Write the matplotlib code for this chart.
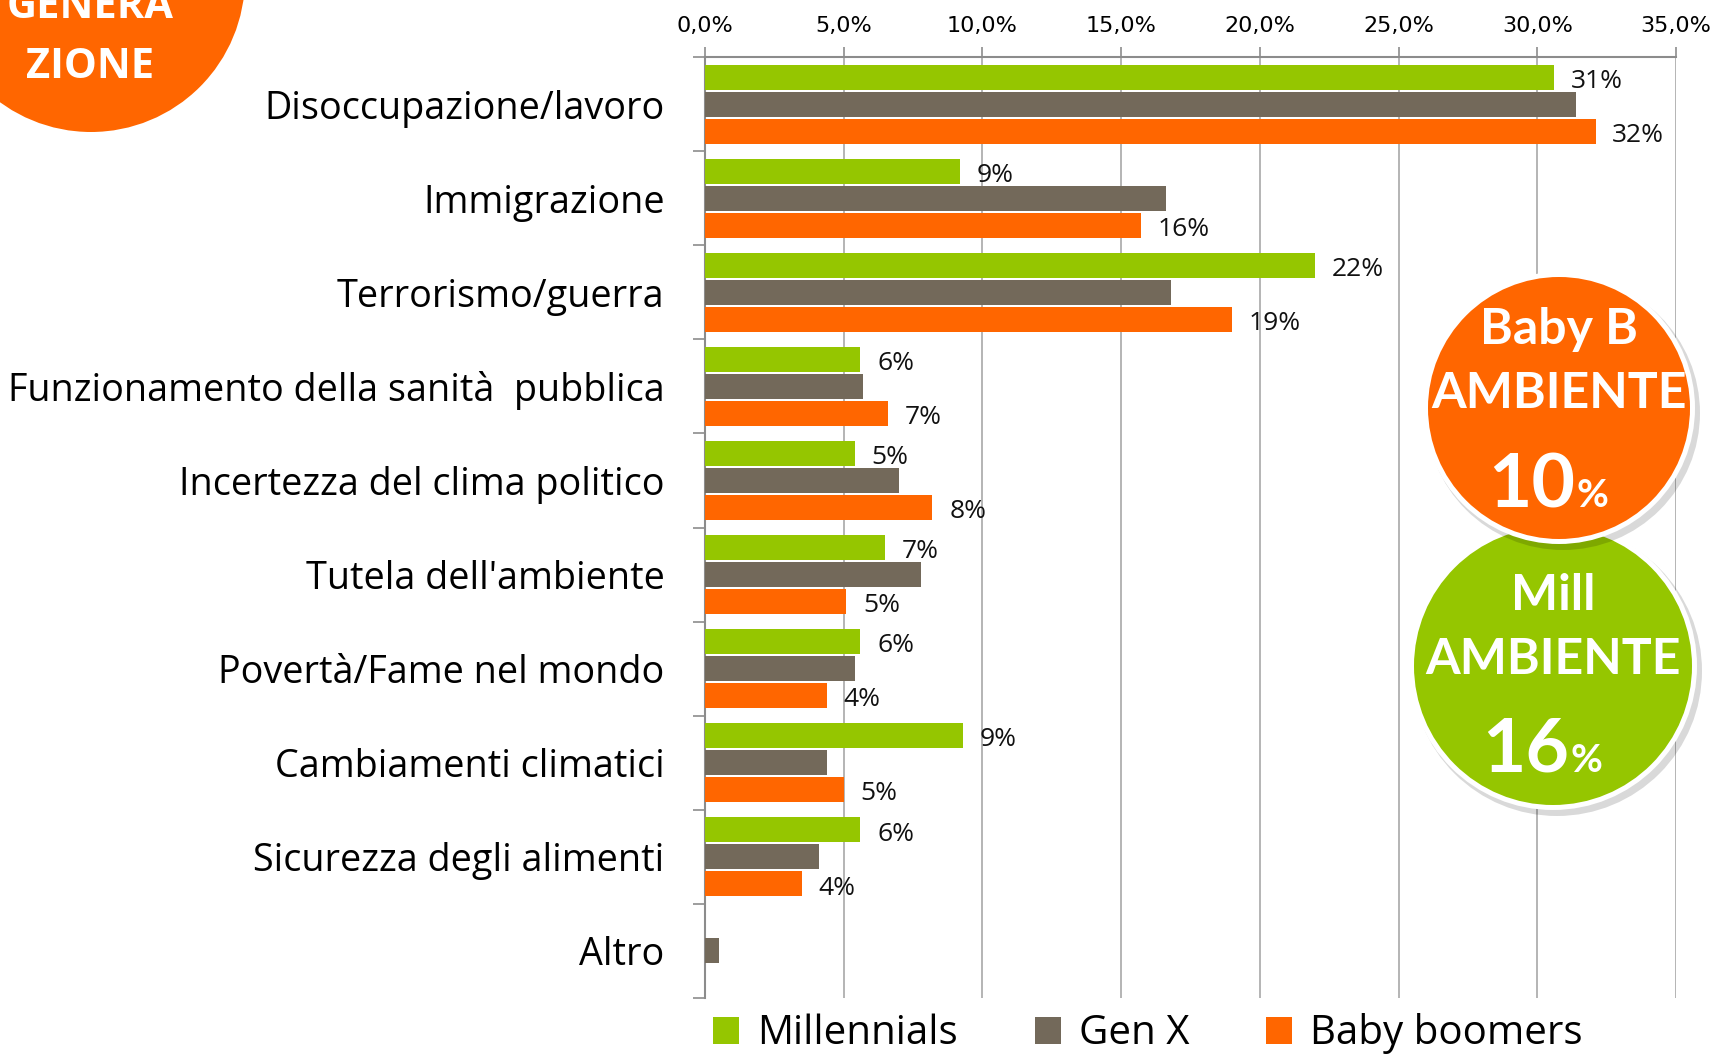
import matplotlib
matplotlib.use("Agg")
import matplotlib.pyplot as plt
from matplotlib.patches import Circle
from matplotlib.ticker import FuncFormatter
import numpy as np

categories = ["Disoccupazione/lavoro", "Immigrazione", "Terrorismo/guerra",
              "Funzionamento della sanità  pubblica", "Incertezza del clima politico",
              "Tutela dell'ambiente", "Povertà/Fame nel mondo", "Cambiamenti climatici",
              "Sicurezza degli alimenti", "Altro"]
millennials = [30.6, 9.2, 22.0, 5.6, 5.4, 6.5, 5.6, 9.3, 5.6, 0.0]
genx = [31.4, 16.6, 16.8, 5.7, 7.0, 7.8, 5.4, 4.4, 4.1, 0.5]
boomers = [32.1, 15.7, 19.0, 6.6, 8.2, 5.1, 4.4, 5.0, 3.5, 0.0]
mill_labels = ["31%", "9%", "22%", "6%", "5%", "7%", "6%", "9%", "6%", ""]
boom_labels = ["32%", "16%", "19%", "7%", "8%", "5%", "4%", "5%", "4%", ""]
series_names = ["Millennials", "Gen X", "Baby boomers"]
xticks = [0, 5, 10, 15, 20, 25, 30, 35]

GREEN = "#95C600"
GRAY = "#73695A"
ORANGE = "#FF6600"
AX_GRAY = "#8C8C8C"

W, H = 1729, 1054
fig = plt.figure(figsize=(W / 100, H / 100), dpi=100)
ax = fig.add_axes([705 / W, 1 - 998 / H, (1676 - 705) / W, (998 - 57) / H])

y = np.arange(len(categories))
off = 0.287
bh = 0.266
ax.barh(y - off, millennials, height=bh, color=GREEN, label=series_names[0], zorder=3)
ax.barh(y, genx, height=bh, color=GRAY, label=series_names[1], zorder=3)
ax.barh(y + off, boomers, height=bh, color=ORANGE, label=series_names[2], zorder=3)

lab_font = dict(fontsize=19, family=["Open Sans", "DejaVu Sans"], color="#111111")
for i in range(len(categories)):
    if mill_labels[i]:
        ax.annotate(mill_labels[i], (millennials[i], y[i] - off), xytext=(12, -3),
                    textcoords="offset points", va="center", ha="left", zorder=4, **lab_font)
    if boom_labels[i]:
        ax.annotate(boom_labels[i], (boomers[i], y[i] + off), xytext=(12, -3),
                    textcoords="offset points", va="center", ha="left", zorder=4, **lab_font)

ax.set_xlim(0, 35)
ax.set_ylim(len(categories) - 0.5, -0.5)
ax.set_xticks(xticks)
ax.xaxis.set_major_formatter(FuncFormatter(lambda v, p: f"{v:.1f}".replace(".", ",") + "%"))
ax.xaxis.tick_top()
ax.tick_params(axis="x", which="major", length=7, width=1.2, color=AX_GRAY, pad=8,
               labelsize=16)
ax.grid(axis="x", color="#A0A0A0", linewidth=1.1, zorder=0)

ax.set_yticks(y)
ax.set_yticklabels(categories, fontsize=27.2, family=["Open Sans", "DejaVu Sans"])
ax.set_yticks(np.arange(len(categories) + 1) - 0.5, minor=True)
ax.tick_params(axis="y", which="major", length=0, pad=29)
ax.tick_params(axis="y", which="minor", length=9, width=1.2, color=AX_GRAY)

for s in ["right", "bottom"]:
    ax.spines[s].set_visible(False)
for s in ["left", "top"]:
    ax.spines[s].set_color(AX_GRAY)
    ax.spines[s].set_linewidth(1.5)

leg = fig.legend(loc="center", bbox_to_anchor=(1148 / W, 1 - 1034 / H), ncol=3, frameon=False,
                 prop={"family": ["Open Sans", "DejaVu Sans"], "size": 29},
                 handlelength=0.65, handleheight=0.65, handletextpad=0.45, columnspacing=1.9)

# overlay for circles
ov = fig.add_axes([0, 0, 1, 1], zorder=10)
ov.set_xlim(0, W)
ov.set_ylim(H, 0)
ov.axis("off")
ov.patch.set_alpha(0)

ov.add_patch(Circle((91, -22), 154, color=ORANGE, lw=0))
ov.text(90, 8, "GENERA", color="white", fontsize=30, fontweight="bold", ha="center", va="center",
        family=["Open Sans", "DejaVu Sans"])
ov.text(90, 68, "ZIONE", color="white", fontsize=30, fontweight="bold", ha="center", va="center",
        family=["Open Sans", "DejaVu Sans"])

def badge(cx, cy, r, color, line1, big, dy1, dy2, dyb):
    ov.add_patch(Circle((cx + 4, cy + 5), r + 6, color="#000000", alpha=0.15, lw=0))
    ov.add_patch(Circle((cx, cy), r + 5, color="white", lw=0))
    ov.add_patch(Circle((cx, cy), r, color=color, lw=0))
    fam = ["Lato", "DejaVu Sans"]
    ov.text(cx, cy + dy1, line1, color="white", fontsize=36, fontweight="bold", ha="center",
            va="center", family=fam)
    ov.text(cx, cy + dy2, "AMBIENTE", color="white", fontsize=36, fontweight="bold", ha="center",
            va="center", family=fam)
    ov.text(cx + 16, cy + dyb, big, color="white", fontsize=54, fontweight="bold", ha="right",
            va="baseline", family=fam)
    ov.text(cx + 18, cy + dyb, "%", color="white", fontsize=28, fontweight="bold", ha="left",
            va="baseline", family=fam)

badge(1553, 666, 139, GREEN, "Mill", "16", -71, -7, 106)
badge(1559, 408, 131, ORANGE, "Baby B", "10", -78, -14, 99)

fig.savefig("out.png", dpi=100, facecolor="white")
